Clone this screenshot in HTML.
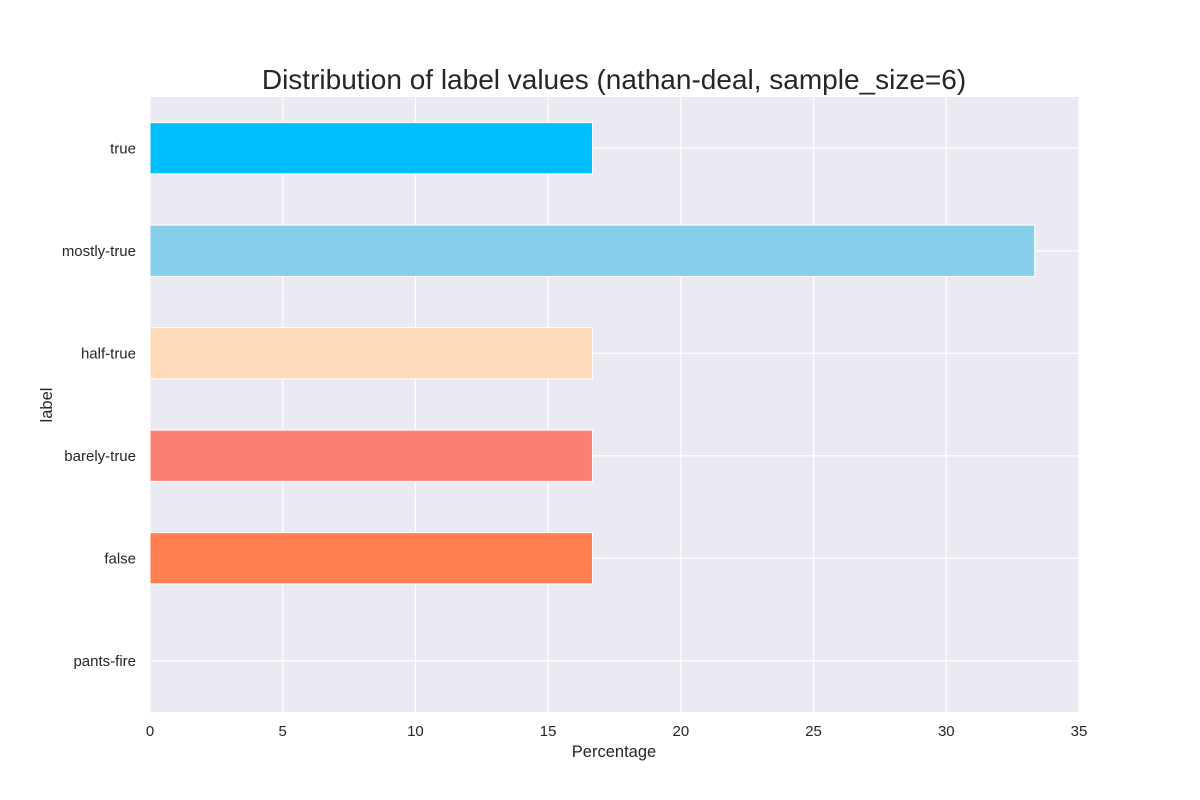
<!DOCTYPE html>
<html><head><meta charset="utf-8"><style>
body{margin:0;background:#fff;}
svg{display:block;font-family:"Liberation Sans","DejaVu Sans",sans-serif;}
</style></head><body>
<svg id="chart" width="1200" height="800">
<text x="614" y="89" text-anchor="middle" font-size="28" fill="#262626">Distribution of label values (nathan-deal, sample_size=6)</text>
<rect x="150" y="97" width="929" height="615" fill="#EAEAF2"/>
<g id="grid"></g><g id="bars"></g><g id="xticks"></g><g id="yticks"></g>
<text x="614" y="757" text-anchor="middle" font-size="16.5" fill="#262626">Percentage</text>
<text transform="translate(52,405) rotate(-90)" text-anchor="middle" font-size="16.5" fill="#262626">label</text>
</svg>
<script>
const categories=["true","mostly-true","half-true","barely-true","false","pants-fire"];
const values=[16.67,33.33,16.67,16.67,16.67,0];
const colors=["#00BFFF","#87CEEB","#FFDAB9","#FA8072","#FF7F50","#FF0000"];
const xTicks=[0,5,10,15,20,25,30,35];
const NS="http://www.w3.org/2000/svg";
const L=150,R=1079,T=97,B=712,XMAX=35;
const x=v=>L+(v/XMAX)*(R-L);
const band=(B-T)/categories.length;
const y=i=>T+band*(i+0.5);
function mk(tag,attrs,parent){const e=document.createElementNS(NS,tag);for(const k in attrs)e.setAttribute(k,attrs[k]);document.getElementById(parent).appendChild(e);return e;}
xTicks.forEach(t=>{
 const g=mk('line',{x1:x(t),x2:x(t),y1:T,y2:B,stroke:'#fff','stroke-width':1.2},'grid');
 
 
 const tx=mk('text',{x:x(t),y:736,'text-anchor':'middle','font-size':15,fill:'#262626'},'xticks');
 tx.textContent=t;
 
 
});
categories.forEach((c,i)=>{
 const g=mk('line',{x1:L,x2:R,y1:y(i),y2:y(i),stroke:'#fff','stroke-width':1.2},'grid');
 
 
 const h=band*0.5;
 const r=mk('rect',{x:x(0),y:y(i)-h/2,width:x(values[i])-x(0),height:h,fill:colors[i],stroke:values[i]>0?'#fff':'none','stroke-width':1},'bars');
 
 
 const tx=mk('text',{x:136,y:y(i)+5,'text-anchor':'end','font-size':15,fill:'#262626'},'yticks');
 tx.textContent=c;
 
 
});
</script>
</body></html>
